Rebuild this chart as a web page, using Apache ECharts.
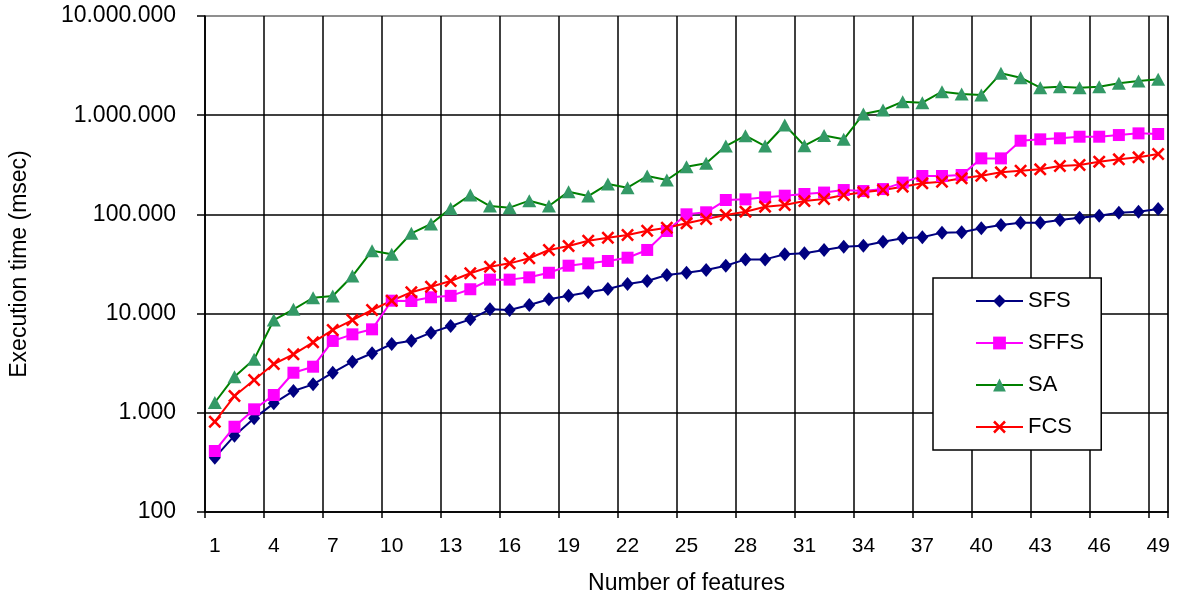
<!DOCTYPE html>
<html>
<head>
<meta charset="utf-8">
<script src="https://cdn.jsdelivr.net/npm/echarts@6/dist/echarts.min.js"></script>
<style>
html,body{margin:0;padding:0;background:#fff;}
#chart{width:1179px;height:605px;}
</style>
</head>
<body>
<div id="chart"></div>
<script>
const categories = Array.from({length: 49}, (_, i) => String(i + 1));
const seriesNames = ['SFS', 'SFFS', 'SA', 'FCS'];
const sfs = [353, 588, 879, 1245, 1660, 1936, 2535, 3273, 3980, 4940, 5330, 6430, 7500, 8750, 11040, 10870, 12200, 13940, 15100, 16400, 17700, 19870, 21300, 24500, 25800, 27500, 30400, 35200, 35200, 39600, 40550, 43800, 47300, 48400, 53100, 57400, 58800, 65500, 66100, 72400, 78200, 82500, 82500, 87900, 92700, 97000, 104000, 106500, 113200];
const sffs = [412, 724, 1084, 1511, 2535, 2915, 5300, 6180, 6940, 13490, 13400, 14600, 15100, 17600, 22000, 22000, 23200, 25800, 30400, 32100, 33900, 36600, 43800, 68000, 100200, 105000, 139600, 141800, 148600, 154400, 160600, 166000, 176000, 172000, 180000, 209000, 244000, 244000, 249500, 367000, 367000, 553000, 571000, 585000, 607000, 607000, 631000, 656000, 646000];
const sa = [1270, 2311, 3460, 8610, 11040, 14450, 15040, 23920, 43060, 39600, 64500, 80000, 115000, 157000, 121500, 117000, 137500, 121500, 169500, 153200, 202400, 185800, 243800, 222200, 302700, 327500, 489000, 621000, 489000, 796000, 493000, 625000, 571000, 1028000, 1128000, 1368000, 1337000, 1725000, 1636000, 1600000, 2644000, 2388000, 1893000, 1937000, 1893000, 1937000, 2095000, 2213000, 2300000];
const fcs = [813, 1476, 2142, 3105, 3885, 5130, 6840, 8610, 10870, 13490, 16400, 18660, 21300, 25500, 29700, 32100, 36100, 43800, 48000, 54300, 58200, 62000, 68500, 73400, 81300, 89900, 98600, 106500, 119600, 124400, 136500, 142900, 157000, 167000, 176000, 190400, 205700, 213600, 231000, 245500, 265600, 275700, 284700, 307600, 314800, 340000, 359000, 376000, 406000];
const xTitle = 'Number of features';
const yTitle = 'Execution time (msec)';

const FONT = 'Liberation Sans, Arial, sans-serif';
const xMark = 'path://M0,1.4L1.4,0L5,3.6L8.6,0L10,1.4L6.4,5L10,8.6L8.6,10L5,6.4L1.4,10L0,8.6L3.6,5Z';

function fmt(v) {
  return String(Math.round(v)).replace(/\B(?=(\d{3})+(?!\d))/g, '.');
}

const chart = echarts.init(document.getElementById('chart'), null, {renderer: 'canvas'});
chart.setOption({
  animation: false,
  backgroundColor: '#fff',
  textStyle: {fontFamily: FONT, color: '#000'},
  grid: {left: 204, right: 11, top: 16, bottom: 93, show: true, borderColor: '#888', borderWidth: 1.5, backgroundColor: 'transparent'},
  legend: {
    orient: 'vertical',
    left: 933, top: 278,
    padding: [12, 17, 12, 42],
    itemWidth: 47, itemHeight: 16, itemGap: 20,
    backgroundColor: '#fff',
    borderColor: '#000', borderWidth: 1.5,
    textStyle: {fontFamily: FONT, fontSize: 22, color: '#000', lineHeight: 22, padding: [0, 0, 0, 0]},
    data: seriesNames
  },
  xAxis: {
    type: 'category',
    data: categories,
    boundaryGap: true,
    name: xTitle,
    nameLocation: 'middle',
    nameGap: 60,
    nameTextStyle: {fontFamily: FONT, fontSize: 23, color: '#000'},
    axisLine: {lineStyle: {color: '#000', width: 1.5}},
    axisTick: {show: true, interval: 2, length: 6, lineStyle: {color: '#000', width: 1.5}},
    axisLabel: {interval: 2, margin: 24, fontFamily: FONT, fontSize: 21, color: '#000'},
    splitLine: {show: true, interval: 2, lineStyle: {color: '#000', width: 1.5}}
  },
  yAxis: {
    type: 'log',
    logBase: 10,
    min: 100,
    max: 10000000,
    name: yTitle,
    nameLocation: 'middle',
    nameGap: 174,
    nameRotate: 90,
    nameTextStyle: {fontFamily: FONT, fontSize: 23, color: '#000'},
    axisLine: {show: true, lineStyle: {color: '#000', width: 1.5}},
    axisTick: {show: true, length: 8, lineStyle: {color: '#000', width: 1.5}},
    axisLabel: {margin: 29, fontFamily: FONT, fontSize: 23, color: '#000', formatter: fmt},
    splitLine: {show: true, lineStyle: {color: ['#000', '#000', '#000', '#000', '#000', '#888'], width: 1.5}},
    minorTick: {show: false}
  },
  series: [
    {
      name: 'SFS', type: 'line', data: sfs, showAllSymbol: true,
      symbol: 'diamond', symbolSize: [12, 14],
      lineStyle: {color: '#000080', width: 2},
      itemStyle: {color: '#000080'}
    },
    {
      name: 'SFFS', type: 'line', data: sffs, showAllSymbol: true,
      symbol: 'rect', symbolSize: 12,
      lineStyle: {color: '#FF00FF', width: 2},
      itemStyle: {color: '#FF00FF'}
    },
    {
      name: 'SA', type: 'line', data: sa, showAllSymbol: true,
      symbol: 'triangle', symbolSize: [14, 13],
      lineStyle: {color: '#008000', width: 2},
      itemStyle: {color: '#339966'}
    },
    {
      name: 'FCS', type: 'line', data: fcs, showAllSymbol: true,
      symbol: xMark, symbolSize: 13,
      lineStyle: {color: '#FF0000', width: 2},
      itemStyle: {color: '#FF0000'}
    }
  ]
});
</script>
</body>
</html>
